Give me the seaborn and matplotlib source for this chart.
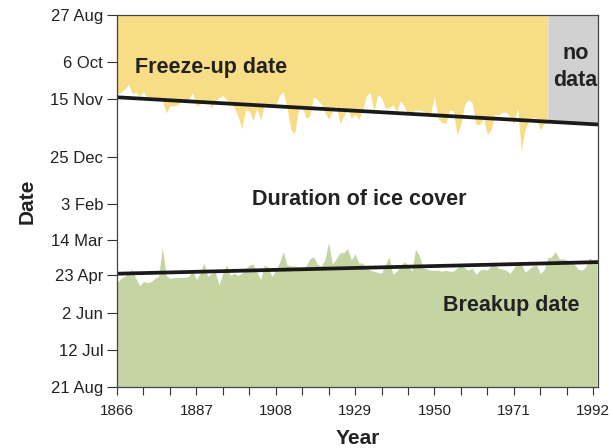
import numpy as np
import pandas as pd
import matplotlib
matplotlib.use("Agg")
import matplotlib.pyplot as plt
import seaborn as sns

# dates are days after 27 Aug (y axis runs top -> bottom)
freeze_years = list(range(1866, 1981))
freeze_days = [
    77, 75, 72, 67, 76, 75, 79, 74, 82, 79, 80, 81, 83, 95, 88, 88, 87, 83, 84, 82,
    75, 88, 86, 84, 82, 90, 83, 80, 78, 82, 86, 89, 98, 110, 92, 93, 102, 90, 102, 86,
    88, 88, 87, 78, 74, 90, 111, 115, 92, 88, 100, 98, 79, 82, 86, 94, 101, 93, 88, 105,
    98, 90, 100, 96, 101, 92, 78, 75, 94, 77, 80, 90, 90, 87, 94, 83, 88, 97,
    94, 92, 92, 93, 95, 95, 79, 100, 104, 105, 92, 93, 116, 106, 86, 82, 85, 106, 106, 100,
    116, 111, 96, 97, 94, 94, 99, 105, 90, 131, 111, 102, 99, 100, 111, 105, 105,
]

breakup_years = list(range(1866, 1994))
breakup_days = [
    259, 255, 253, 250, 246, 255, 262, 258, 259, 258, 255, 253, 225, 252, 255, 254, 254, 254, 254, 253,
    247, 256, 250, 240, 253, 250, 249, 261, 250, 242, 252, 250, 252, 250, 246, 242, 241, 249, 256, 242,
    244, 253, 247, 240, 229, 242, 243, 243, 244, 244, 243, 236, 234, 241, 243, 237, 220, 241, 236, 230,
    230, 226, 237, 231, 240, 240, 245, 247, 248, 249, 250, 242, 234, 251, 248, 243, 239, 242, 248, 227,
    233, 245, 246, 247, 247, 247, 248, 247, 248, 248, 245, 241, 245, 247, 245, 251, 247, 246, 247, 242,
    242, 245, 246, 247, 250, 245, 239, 241, 249, 246, 243, 242, 250, 247, 235, 234, 229, 236, 236, 237,
    240, 241, 246, 247, 244, 235, 238, 241,
]

date_ticks = [0, 45.5, 81.3, 137.4, 182.9, 217.7, 251.6, 288.4, 324.2, 360]
date_labels = ["27 Aug", "6 Oct", "15 Nov", "25 Dec", "3 Feb", "14 Mar",
               "23 Apr", "2 Jun", "12 Jul", "21 Aug"]
year_ticks = [1866, 1887, 1908, 1929, 1950, 1971, 1992]

freeze = pd.DataFrame({"year": freeze_years, "day": freeze_days})
breakup = pd.DataFrame({"year": breakup_years, "day": breakup_days})

sns.set_style("ticks")
plt.rcParams["font.family"] = ["Liberation Sans", "DejaVu Sans"]

yellow = "#F7DD86"
green = "#C5D4A3"
grey = "#D1D1D1"
ink = "#222222"
x_end = 1993.3

fig = plt.figure(figsize=(6.13, 4.48), dpi=100)
ax = fig.add_axes([0.1909, 0.1362, 0.7847, 0.8304])
ax.set_xlim(1866, x_end)
ax.set_ylim(360, 0)

ax.fill_between(freeze["year"], 0, freeze["day"], color=yellow, lw=0)
ax.fill_between(breakup["year"], breakup["day"], 360, color=green, lw=0)

# no data region: top down to freeze-up trend
slope, icpt = np.polyfit(freeze["year"], freeze["day"], 1)
xs = np.array([freeze_years[-1], x_end])
ax.fill_between(xs, 0, slope * xs + icpt, color=grey, lw=0)

for df in (freeze, breakup):
    sns.regplot(data=df, x="year", y="day", ax=ax, scatter=False, ci=None,
                truncate=False, color="#1a1a1a", line_kws={"lw": 2.7})

ax.set_xlim(1866, x_end)
ax.set_ylim(360, 0)

bold = dict(fontsize=15.5, fontweight="bold", color=ink)
ax.text(0.037, 0.858, "Freeze-up date", transform=ax.transAxes, ha="left", va="center", **bold)
ax.text(0.503, 0.505, "Duration of ice cover", transform=ax.transAxes, ha="center", va="center", **bold)
ax.text(0.819, 0.218, "Breakup date", transform=ax.transAxes, ha="center", va="center", **bold)
ax.text(0.953, 0.86, "no\ndata", transform=ax.transAxes, ha="center", va="center",
        linespacing=1.4, **bold)

ax.set_yticks(date_ticks)
ax.set_yticklabels(date_labels)
ax.set_xticks(year_ticks)
ax.set_xticks(np.arange(1866, 1993, 7), minor=True)
ax.tick_params(axis="both", which="both", direction="out", width=0.8,
               color="#333333", labelcolor=ink)
ax.tick_params(axis="y", length=7, pad=3, labelsize=12)
ax.tick_params(axis="x", which="both", length=6, pad=6, labelsize=11)

ax.set_xlabel("Year", fontsize=15, fontweight="bold", color=ink, labelpad=8)
ax.set_ylabel("Date", fontsize=15, fontweight="bold", color=ink, labelpad=10)

for side in ax.spines.values():
    side.set_color("#444444")
    side.set_linewidth(0.9)
    side.set_visible(True)

fig.savefig("out.png", dpi=100)
